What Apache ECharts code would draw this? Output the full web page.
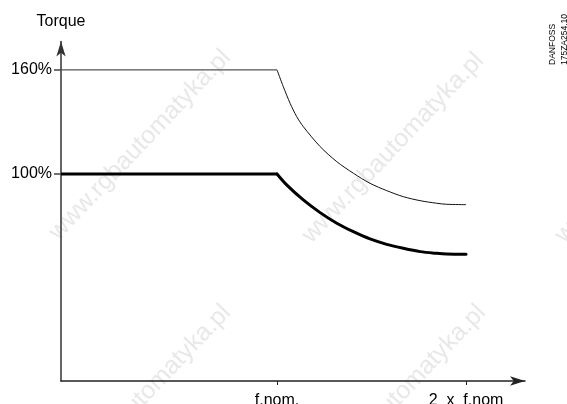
<!DOCTYPE html>
<html>
<head>
<meta charset="utf-8">
<script src="https://cdn.jsdelivr.net/npm/echarts@6/dist/echarts.min.js"></script>
<style>html,body{margin:0;padding:0;background:#fff;}#c{width:567px;height:404px;}</style>
</head>
<body>
<div id="c"></div>
<script>
// Frequency in units of f.nom, torque in percent
const upperFreq   = [-0.143, 1.0, 1.033, 1.069, 1.104, 1.139, 1.228, 1.316, 1.404, 1.492, 1.580, 1.668, 1.757, 1.845, 1.898, 2.0];
const upperTorque = [160, 160, 150.4, 140.8, 133.1, 127.3, 115.8, 107.1, 100.4, 94.6, 90.4, 86.9, 84.6, 83.1, 82.5, 82.3];
const lowerFreq   = [-0.143, 1.0, 1.051, 1.139, 1.228, 1.316, 1.404, 1.492, 1.580, 1.668, 1.757, 1.845, 1.898, 2.0];
const lowerTorque = [100, 100, 93.7, 85.0, 77.7, 71.6, 66.7, 62.5, 59.4, 57.1, 55.2, 54.2, 53.8, 53.7];
const xTickValues = [1, 2];
const xTickLabels = ['f.nom.', '2  x  f.nom'];
const yTickValues = [100, 160];
const yTickLabels = ['100%', '160%'];
const yAxisName = 'Torque';
const codeLines = ['DANFOSS', '175ZA254.10'];
const watermark = 'www.rgbautomatyka.pl';

const FONT = 'Liberation Sans';
const chart = echarts.init(document.getElementById('c'), null, {renderer: 'canvas'});

const pair = (xs, ys) => xs.map((x, i) => [x, ys[i]]);
const upper = pair(upperFreq, upperTorque);
const lower = pair(lowerFreq, lowerTorque);
const wmCenters = [[140, 145], [393, 148], [646, 148], [140, 400], [395, 400]];

const graphics = wmCenters.map(c => ({
  type: 'text', x: c[0], y: c[1], rotation: 46.5 * Math.PI / 180, z: -10, silent: true,
  style: {text: watermark, fontFamily: FONT, fontSize: 25, fill: '#e8e8e8', align: 'center', verticalAlign: 'middle'}
}));
graphics.push({
  type: 'text', x: 553, y: 65, rotation: Math.PI / 2, silent: true,
  style: {text: codeLines[0], fontFamily: FONT, fontSize: 8.5, fill: '#000', align: 'left', verticalAlign: 'middle'}
});
graphics.push({
  type: 'text', x: 565, y: 65, rotation: Math.PI / 2, silent: true,
  style: {text: codeLines[1], fontFamily: FONT, fontSize: 8.5, fill: '#000', align: 'left', verticalAlign: 'middle'}
});

const flat = (d) => d.slice(0, 2);
const curve = (d) => d.slice(1);

chart.setOption({
  animation: false,
  backgroundColor: '#fff',
  grid: {left: 61, right: 42, top: 41.5, bottom: 23, containLabel: false, outerBoundsMode: 'none'},
  xAxis: {
    type: 'value', min: -0.143, max: 2.312,
    splitLine: {show: false},
    axisLine: {show: true, onZero: false, symbol: ['none', 'arrow'], symbolSize: [7, 15],
      lineStyle: {color: '#222', width: 1.5}},
    axisTick: {show: true, customValues: xTickValues, length: 4, lineStyle: {color: '#222', width: 1}},
    axisLabel: {show: true, customValues: xTickValues, margin: 12, hideOverlap: false,
      fontFamily: FONT, fontSize: 16, color: '#000',
      formatter: v => xTickLabels[xTickValues.indexOf(v)] || ''}
  },
  yAxis: {
    type: 'value', min: -19.42, max: 176.4,
    name: yAxisName, nameLocation: 'end', nameGap: 12,
    nameTextStyle: {fontFamily: FONT, fontSize: 16, color: '#000', align: 'center'},
    splitLine: {show: false},
    axisLine: {show: true, onZero: false, symbol: ['none', 'arrow'], symbolSize: [7, 15],
      lineStyle: {color: '#333', width: 1.5}},
    axisTick: {show: true, customValues: yTickValues, length: 7, lineStyle: {color: '#444', width: 1.5}},
    axisLabel: {show: true, customValues: yTickValues, margin: 9,
      fontFamily: FONT, fontSize: 16, color: '#000',
      formatter: v => yTickLabels[yTickValues.indexOf(v)] || ''}
  },
  graphic: graphics,
  series: [
    {type: 'line', data: flat(upper), showSymbol: false,
      lineStyle: {color: '#555', width: 1.3}, z: 3},
    {type: 'line', data: curve(upper), showSymbol: false, smooth: 0.3,
      lineStyle: {color: '#111', width: 1}, z: 3},
    {type: 'line', data: flat(lower), showSymbol: false,
      lineStyle: {color: '#000', width: 3}, z: 3},
    {type: 'line', data: curve(lower), showSymbol: false, smooth: 0.3,
      lineStyle: {color: '#000', width: 3, join: 'round', cap: 'round'}, z: 3}
  ]
});
</script>
</body>
</html>
